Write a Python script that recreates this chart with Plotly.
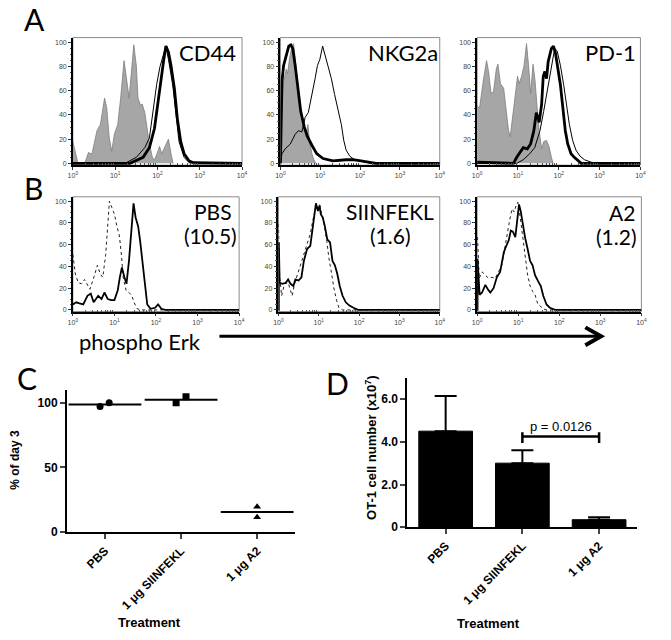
import numpy as np
import plotly.graph_objects as go

W, H = 671, 640

# ========================= DATA =========================
# Flow histograms: x given as decades (log10 of fluorescence), y = % of max
# --- Panel A: CD44 ---
cd44_iso_exp = [0.00, 0.12, 0.28, 0.37, 0.45, 0.57, 0.65, 0.75, 0.80, 0.86, 0.92, 0.98, 1.06, 1.13, 1.21, 1.27,
                1.33, 1.39, 1.44, 1.50, 1.54, 1.60, 1.64, 1.70, 1.76, 1.81, 1.88, 1.93, 1.99, 2.05, 2.10, 2.16,
                2.26, 2.32, 2.37]
cd44_iso_val = [18, 0, 0, 9, 7.6, 27, 32, 54, 46, 21, 10, 24, 32, 54, 85, 67,
                54, 78, 98, 81, 54, 48, 49, 42, 27, 16, 5, 3, 8, 14, 8, 12,
                20, 8, 0]
cd44_thin_exp = [0.00, 1.23, 1.50, 1.70, 1.81, 1.91, 1.98, 2.06, 2.14, 2.20, 2.26, 2.36, 2.44, 2.51, 2.63, 2.75, 4.00]
cd44_thin_val = [0, 0, 5, 13, 21, 46, 65, 80, 89, 97, 86, 65, 40, 18, 5, 0.5, 0]
cd44_thick_exp = [0.00, 1.35, 1.66, 1.81, 1.93, 2.01, 2.09, 2.15, 2.20, 2.26, 2.32, 2.40, 2.47, 2.55, 2.63, 2.75,
                  2.86, 4.00]
cd44_thick_val = [0, 0, 5, 13, 29, 51, 70, 86, 97, 92, 81, 62, 37, 18, 8, 2, 0.5, 0]

# --- Panel A: NKG2a ---
nkg_iso_exp = [0.00, 0.02, 0.04, 0.08, 0.15, 0.18, 0.23, 0.29, 0.33, 0.37, 0.41, 0.48, 0.54, 0.60, 0.64, 0.69,
               0.73, 0.79, 0.84, 0.89]
nkg_iso_val = [0, 20, 54, 68, 78, 74, 87, 97, 99, 87, 73, 51, 38, 28, 22, 32, 19, 8, 3, 0]
nkg_thin_exp = [0.00, 0.04, 0.12, 0.25, 0.37, 0.45, 0.54, 0.62, 0.70, 0.79, 0.87, 0.93, 0.99, 1.06, 1.12, 1.20,
                1.28, 1.36, 1.45, 1.53, 1.59, 1.65, 1.74, 1.86, 1.98, 2.15, 2.27, 4.00]
nkg_thin_val = [0, 8, 12, 16, 24, 27, 26, 38, 42, 56, 70, 81, 86, 97, 90, 81,
                70, 57, 43, 32, 19, 11, 6, 3, 2, 1, 0, 0]
nkg_thick_exp = [0.00, 0.04, 0.08, 0.15, 0.21, 0.26, 0.31, 0.37, 0.44, 0.51, 0.60, 0.68, 0.79, 0.91, 1.07, 1.32,
                 1.65, 1.82, 2.02, 2.23, 2.40, 4.00]
nkg_thick_val = [0, 68, 81, 91, 97, 98, 95, 81, 62, 43, 30, 22, 15, 8, 4, 2, 3, 3, 2, 1, 0, 0]

# --- Panel A: PD-1 ---
pd1_iso_exp = [0.00, 0.06, 0.15, 0.23, 0.28, 0.34, 0.40, 0.47, 0.51, 0.57, 0.65, 0.71, 0.77, 0.81, 0.87, 0.94,
               0.99, 1.03, 1.09, 1.15, 1.21, 1.26, 1.31, 1.37, 1.42, 1.47, 1.52, 1.58, 1.63, 1.70, 1.76, 1.82,
               1.86]
pd1_iso_val = [47, 46, 68, 85, 76, 58, 59, 78, 82, 66, 62, 43, 27, 22, 38, 59,
               72, 66, 72, 81, 99, 81, 58, 82, 68, 46, 27, 12, 18, 19, 14, 5, 0]
pd1_thin_exp = [0.00, 0.97, 1.13, 1.29, 1.41, 1.54, 1.63, 1.74, 1.82, 1.90, 1.96, 2.04, 2.12, 2.20, 2.26, 2.34,
                2.42, 2.52, 2.63, 2.79, 2.95, 4.00]
pd1_thin_val = [0, 0, 3, 8, 13, 27, 43, 65, 81, 95, 93, 81, 65, 46, 32, 19, 11, 6, 3, 1, 0, 0]
pd1_thick_exp = [0.00, 0.89, 0.97, 1.05, 1.13, 1.23, 1.31, 1.39, 1.45, 1.52, 1.58, 1.62, 1.66, 1.70, 1.74, 1.82,
                 1.87, 1.92, 1.98, 2.04, 2.10, 2.16, 2.22, 2.30, 2.38, 2.46, 2.55, 4.00]
pd1_thick_val = [1, 0, 5, 9, 13, 12, 16, 27, 42, 34, 49, 72, 76, 70, 84, 95,
                 97, 91, 78, 65, 46, 27, 16, 8, 5, 3, 0, 0]

# --- Panel B: phospho Erk, PBS (10.5) ---
pbs_dot_exp = [0.00, 0.06, 0.13, 0.21, 0.28, 0.33, 0.41, 0.49, 0.59, 0.66, 0.72, 0.79, 0.84, 0.88, 0.94, 1.00,
               1.06, 1.12, 1.17, 1.21, 1.28, 1.35, 1.42, 1.47, 1.55, 1.63, 4.00]
pbs_dot_val = [51, 33, 25, 24, 28, 24, 19, 28, 41, 33, 30, 51, 82, 100, 94, 88,
               77, 68, 50, 30, 18, 16, 13, 7, 1, 0, 0]
pbs_solid_exp = [0.00, 0.08, 0.16, 0.25, 0.35, 0.43, 0.50, 0.61, 0.69, 0.76, 0.84, 0.92, 1.00, 1.08, 1.13, 1.18,
                 1.24, 1.29, 1.35, 1.41, 1.46, 1.51, 1.57, 1.62, 1.67, 1.73, 1.79, 1.87, 1.98, 2.05, 2.13, 2.22,
                 4.00]
pbs_solid_val = [5, 7, 6, 5, 13, 15, 7, 13, 10, 16, 10, 9, 9, 18, 30, 39,
                 30, 24, 45, 76, 98, 85, 77, 63, 45, 21, 5, 1, 2, 5, 1, 0, 0]

# --- Panel B: SIINFEKL (1.6) ---
siin_dot_exp = [0.00, 0.03, 0.08, 0.15, 0.24, 0.30, 0.34, 0.40, 0.46, 0.54, 0.63, 0.71, 0.79, 0.85, 0.91, 0.97,
                1.02, 1.07, 1.13, 1.20, 1.25, 1.32, 1.37, 1.44, 1.50, 1.59, 4.00]
siin_dot_val = [79, 30, 13, 24, 25, 18, 13, 24, 31, 39, 51, 60, 70, 82, 92, 94,
                97, 89, 80, 63, 48, 33, 21, 9, 2, 0, 0]
siin_solid_exp = [0.00, 0.01, 0.01, 0.03, 0.10, 0.18, 0.24, 0.30, 0.37, 0.42, 0.50, 0.57, 0.63, 0.71, 0.79, 0.85,
                  0.89, 0.93, 0.98, 1.02, 1.05, 1.10, 1.15, 1.21, 1.28, 1.34, 1.40, 1.46, 1.52, 1.59, 1.67, 1.76,
                  1.86, 1.97, 4.00]
siin_solid_val = [0, 0, 62, 25, 24, 25, 28, 24, 22, 28, 27, 30, 45, 56, 59, 77,
                  85, 98, 91, 96, 88, 85, 77, 65, 62, 45, 41, 33, 22, 13, 7, 4,
                  2, 0, 0]

# --- Panel B: A2 (1.2) ---
a2_dot_exp = [0.01, 0.05, 0.12, 0.20, 0.28, 0.36, 0.44, 0.52, 0.60, 0.67, 0.73, 0.79, 0.85, 0.90, 0.95, 0.99,
              1.05, 1.11, 1.17, 1.23, 1.29, 1.35, 1.41, 1.48, 1.53, 1.60, 1.69, 4.00]
a2_dot_val = [67, 29, 35, 32, 29, 30, 29, 35, 41, 56, 70, 82, 93, 90, 96, 99,
              85, 67, 53, 32, 22, 17, 14, 5, 4, 1, 0, 0]
a2_solid_exp = [0.00, 0.01, 0.01, 0.06, 0.12, 0.20, 0.26, 0.32, 0.40, 0.48, 0.56, 0.65, 0.71, 0.77, 0.82, 0.87,
                0.93, 0.97, 1.02, 1.06, 1.11, 1.17, 1.23, 1.29, 1.35, 1.41, 1.49, 1.55, 1.61, 1.69, 1.77, 1.90,
                4.00]
a2_solid_val = [0, 0, 47, 14, 16, 23, 19, 16, 20, 30, 35, 53, 59, 64, 73, 72,
                67, 82, 97, 91, 78, 66, 56, 45, 41, 32, 26, 22, 13, 5, 2, 0, 0]

hist_xtick_exp = [0, 1, 2, 3, 4]
hist_yticks = [0, 20, 40, 60, 80, 100]

# --- Panel C: % of day 3 ---
c_categories = ["PBS", "1 μg SIINFEKL", "1 μg A2"]
c_pbs = [97, 100]
c_siinfekl = [100, 104.5]
c_a2 = [19.5, 11.5]
c_yticks = [0, 50, 100]

# --- Panel D: OT-1 cell number (x10^7) ---
d_categories = ["PBS", "1 μg SIINFEKL", "1 μg A2"]
d_means = [4.5, 3.0, 0.35]
d_sem = [1.65, 0.6, 0.12]
d_yticks = [0, 2, 4, 6]
d_yticklabels = ["0", "2.0", "4.0", "6.0"]
d_ptext = "p = 0.0126"

# ========================= LAYOUT HELPERS =========================
def xd(a, b):
    return [a / W, b / W]


def yd(top, bottom):
    return [1 - bottom / H, 1 - top / H]


def px(x):
    return x / W


def py(y):
    return 1 - y / H


FONT = "Liberation Sans, Arial, sans-serif"
LABF = "Lato, Open Sans, sans-serif"

fig = go.Figure()
layout = dict(width=W, height=H, margin=dict(l=0, r=0, t=0, b=0), autosize=False,
              paper_bgcolor="white", plot_bgcolor="white", showlegend=False,
              font=dict(family=FONT, color="black"))
shapes = []
annotations = []

hist_panels = [
    (1, (69, 241), (38, 167), [(cd44_iso_exp, cd44_iso_val, "iso"), (cd44_thin_exp, cd44_thin_val, "thin"),
                                (cd44_thick_exp, cd44_thick_val, "thick")]),
    (2, (280, 442), (38, 167), [(nkg_iso_exp, nkg_iso_val, "iso"), (nkg_thin_exp, nkg_thin_val, "thin"),
                                 (nkg_thick_exp, nkg_thick_val, "thick")]),
    (3, (480, 646), (38, 167), [(pd1_iso_exp, pd1_iso_val, "iso"), (pd1_thin_exp, pd1_thin_val, "thin"),
                                 (pd1_thick_exp, pd1_thick_val, "thick")]),
    (4, (69, 238), (199, 315), [(pbs_dot_exp, pbs_dot_val, "dot"), (pbs_solid_exp, pbs_solid_val, "solid")]),
    (5, (278, 442), (199, 315), [(siin_dot_exp, siin_dot_val, "dot"), (siin_solid_exp, siin_solid_val, "solid")]),
    (6, (480, 647), (199, 315), [(a2_dot_exp, a2_dot_val, "dot"), (a2_solid_exp, a2_solid_val, "solid")]),
]

styles = {
    "iso": dict(line=dict(color="#7d7d7d", width=0.8), fill="tozeroy", fillcolor="#a6a6a6"),
    "thin": dict(line=dict(color="black", width=1.0)),
    "thick": dict(line=dict(color="black", width=2.8)),
    "dot": dict(line=dict(color="#222222", width=1.0, dash="dot")),
    "solid": dict(line=dict(color="black", width=1.8)),
}

minor_x = [m * 10 ** d for d in range(4) for m in range(2, 10)]

for idx, (xa, xb), (ya, yb), curves in hist_panels:
    sfx = "" if idx == 1 else str(idx)
    for exps, vals, kind in curves:
        fig.add_trace(go.Scatter(x=10 ** np.array(exps, dtype=float), y=vals, mode="lines",
                                 xaxis="x" + sfx, yaxis="y" + sfx, hoverinfo="skip", **styles[kind]))
    layout["xaxis" + sfx] = dict(domain=xd(xa, xb), anchor="y" + sfx, type="log", range=[0, 4],
                                 tickvals=[10 ** e for e in hist_xtick_exp],
                                 ticktext=["10<sup>%d</sup>" % e for e in hist_xtick_exp],
                                 tickfont=dict(size=7, color="#444"), ticks="outside", ticklen=3,
                                 tickcolor="#333", showline=True, linecolor="black", linewidth=1.5,
                                 showgrid=False, zeroline=False,
                                 minor=dict(tickvals=minor_x, ticks="inside", ticklen=2, tickcolor="#555"))
    layout["yaxis" + sfx] = dict(domain=yd(ya, yb), anchor="x" + sfx, range=[-1.5, 104],
                                 tickvals=hist_yticks, tickfont=dict(size=7, color="#444"),
                                 ticks="outside", ticklen=3, tickcolor="#333", showline=True,
                                 linecolor="black", linewidth=1.5, showgrid=False, zeroline=False,
                                 minor=dict(dtick=5, ticks="outside", ticklen=1.5, tickcolor="#555"))
    shapes.append(dict(type="rect", xref="x%s domain" % sfx, yref="y%s domain" % sfx,
                       x0=0, x1=1, y0=0, y1=1, line=dict(color="#8a8a8a", width=1), layer="below"))

# ---------- Panel C ----------
c_sets = [c_pbs, c_siinfekl, c_a2]
c_symbols = ["circle", "square", "triangle-up"]
c_jitter = [[-0.065, 0.055], [-0.065, 0.065], [0.0, 0.0]]
for i, vals in enumerate(c_sets):
    fig.add_trace(go.Scatter(x=[i + j for j in c_jitter[i]], y=vals, mode="markers", xaxis="x7", yaxis="y7",
                             marker=dict(symbol=c_symbols[i], size=7, color="black"), hoverinfo="skip"))
    fig.add_trace(go.Scatter(x=[i], y=[float(np.mean(vals))], mode="markers", xaxis="x7", yaxis="y7",
                             marker=dict(symbol="line-ew", size=52, color="black",
                                         line=dict(width=2, color="black")), hoverinfo="skip"))

cat_axis = dict(range=[-0.5, 2.5], tickvals=[0, 1, 2], tickangle=-45,
                tickfont=dict(size=12, family=FONT, weight="bold"),
                ticks="outside", ticklen=5, tickwidth=2, showline=True, linewidth=2,
                linecolor="black", showgrid=False, zeroline=False)
layout["xaxis7"] = dict(domain=xd(63, 295), anchor="y7", ticktext=c_categories, **cat_axis)
layout["yaxis7"] = dict(domain=yd(394, 538), anchor="x7", range=[0, 110], tickvals=c_yticks,
                        tickfont=dict(size=12, family=FONT, weight="bold"),
                        ticks="outside", ticklen=5, tickwidth=2, showline=True, linewidth=2,
                        linecolor="black", showgrid=False, zeroline=False)

# ---------- Panel D ----------
fig.add_trace(go.Bar(x=[0, 1, 2], y=d_means, width=0.7, xaxis="x8", yaxis="y8",
                     marker=dict(color="black", line=dict(color="black", width=1)),
                     error_y=dict(type="data", array=d_sem, arrayminus=[0] * len(d_sem), symmetric=False,
                                  color="black", thickness=2, width=11),
                     hoverinfo="skip"))
layout["xaxis8"] = dict(domain=xd(409, 643), anchor="y8", ticktext=d_categories, **cat_axis)
layout["yaxis8"] = dict(domain=yd(382, 533), anchor="x8", range=[0, 7], tickvals=d_yticks,
                        ticktext=d_yticklabels, tickfont=dict(size=12, family=FONT, weight="bold"),
                        ticks="outside", ticklen=5, tickwidth=2, showline=True, linewidth=2,
                        linecolor="black", showgrid=False, zeroline=False)

# significance bracket between SIINFEKL and A2
br_lo, br_hi, br_y = 1, 2, 4.25
shapes.append(dict(type="line", xref="x8", yref="y8", x0=br_lo, x1=br_hi, y0=br_y, y1=br_y,
                   line=dict(color="black", width=2.5)))
for bx in (br_lo, br_hi):
    shapes.append(dict(type="line", xref="x8", yref="y8", x0=bx, x1=bx, y0=br_y - 0.3, y1=br_y + 0.2,
                       line=dict(color="black", width=2.5)))
annotations.append(dict(text=d_ptext, xref="x8", yref="y8", x=(br_lo + br_hi) / 2, y=br_y + 0.45,
                        showarrow=False, font=dict(size=13, family=FONT), yanchor="middle"))

# ---------- Text labels ----------
def note(text, x, y, size, family=LABF, xanchor="center", yanchor="middle", weight="normal", angle=0):
    annotations.append(dict(text=text, xref="paper", yref="paper", x=px(x), y=py(y), showarrow=False,
                            xanchor=xanchor, yanchor=yanchor, textangle=angle, borderpad=0,
                            font=dict(size=size, family=family, color="black", weight=weight)))


note("A", 30, 19, 30)
note("B", 29, 190, 30)
note("C", 22, 382, 30)
note("D", 338, 387, 30)

note("CD44", 236, 53, 22, xanchor="right")
note("NKG2a", 441, 53, 22, xanchor="right")
note("PD-1", 643, 53, 22, xanchor="right")

note("PBS", 232, 214, 21, xanchor="right")
note("(10.5)", 237, 238, 21, xanchor="right")
note("SIINFEKL", 391, 214, 21)
note("(1.6)", 392, 238, 21)
note("A2", 642, 215, 21, xanchor="right")
note("(1.2)", 644, 239, 21, xanchor="right")

note("phospho Erk", 74, 345, 22, xanchor="left")

note("% of day 3", 10, 465, 12, family=FONT, weight="bold", angle=-90)
note("Treatment", 147, 629, 13, family=FONT, weight="bold")
note("OT-1 cell number (x10<sup>7</sup>)", 372, 452, 13, family=FONT, weight="bold", angle=-90)
note("Treatment", 492, 630, 13, family=FONT, weight="bold")

# arrow under panel B
shapes.append(dict(type="line", xref="paper", yref="paper", x0=px(218), x1=px(604), y0=py(340), y1=py(340),
                   line=dict(color="black", width=3)))
shapes.append(dict(type="path", xref="paper", yref="paper",
                   path="M %f,%f L %f,%f L %f,%f" % (px(590), py(331), px(606), py(340), px(590), py(349)),
                   line=dict(color="black", width=4)))

layout["shapes"] = shapes
layout["annotations"] = annotations
fig.update_layout(**layout)
# remove the browser's default 8px page margin so the figure sits at the window origin
fig.write_html("out.html", config={"displayModeBar": False},
               post_script="document.body.style.margin='0px';")
